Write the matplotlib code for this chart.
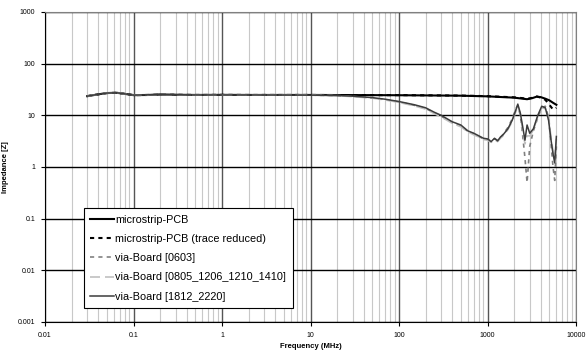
import matplotlib
matplotlib.use("Agg")
import matplotlib.pyplot as plt
from matplotlib.ticker import FixedLocator, FuncFormatter, LogLocator

plt.rcParams['font.family'] = ['Liberation Sans', 'DejaVu Sans']

# Data
freq_ms = [0.03, 0.04, 0.05, 0.065, 0.08, 0.1, 0.15, 0.2, 0.3, 0.5, 1, 2, 5, 10, 20, 50,
           100, 200, 500, 1000, 1500, 2000, 2500, 2800, 3200, 3600, 4000, 4500, 5000, 5500, 6000]
z_ms = [23.5, 25.5, 27, 27.3, 26, 24.6, 24.8, 25.3, 25, 24.8, 24.9, 24.8, 24.8, 24.8, 24.7, 24.6,
        24.5, 24.3, 24, 23.3, 22.5, 22, 21, 20.5, 21.5, 23, 22.5, 21, 19.5, 17.5, 16]
z_ms_reduced = [23.5, 25.5, 27, 27.3, 26, 24.6, 24.8, 25.3, 25, 24.8, 24.9, 24.8, 24.8, 24.8, 24.7, 24.6,
                24.6, 24.4, 24.1, 23.5, 22.8, 22.3, 21.5, 20.8, 21.8, 23.2, 22, 20, 16, 13, 14]

freq_via = [0.03, 0.04, 0.05, 0.065, 0.08, 0.1, 0.2, 0.5, 1, 2, 5, 10, 20, 30, 50, 70, 100,
            150, 200, 250, 300, 400, 500, 600, 700, 800, 900, 1000, 1100, 1200, 1300, 1400,
            1500, 1700, 1900, 2100, 2200, 2350, 2500, 2650, 2800, 3000, 3300, 3700, 4100,
            4500, 4900, 5200, 5500, 5750, 6000]
z_1812 = [23.5, 25.5, 27, 27.3, 26, 24.6, 25.3, 24.8, 24.8, 24.8, 24.7, 24.6, 24.2, 23.5, 22, 20.5, 18.5,
          16, 14, 11.5, 10, 7.5, 6.5, 5, 4.5, 4.0, 3.6, 3.5, 3.1, 3.6, 3.2, 3.8,
          4.2, 5.5, 8, 13, 16.5, 11, 6, 3.3, 6.5, 4.5, 5.5, 10, 15,
          14, 8, 3.5, 1.8, 1.2, 3.9]
z_0603 = [23.5, 25.5, 27, 27.3, 26, 24.6, 25.3, 24.8, 24.8, 24.8, 24.7, 24.6, 24.2, 23.3, 21.8, 20.2, 18.2,
          15.6, 13.6, 11.2, 9.6, 7.2, 6.2, 4.9, 4.4, 3.9, 3.5, 3.4, 3.2, 3.5, 3.3, 3.7,
          4.3, 5.8, 8.5, 13.5, 15.5, 10, 4, 1.5, 0.5, 2.5, 5, 9, 14,
          15, 9, 3, 1, 0.55, 2.5]
z_0805 = [23.5, 25.5, 27, 27.3, 26, 24.6, 25.3, 24.8, 24.8, 24.8, 24.7, 24.6, 24.0, 23.0, 21.5, 19.8, 17.8,
          15.2, 13.2, 10.8, 9.3, 7.0, 6.0, 4.8, 4.2, 3.8, 3.4, 3.3, 3.0, 3.4, 3.1, 3.6,
          4.0, 5.3, 7.5, 12, 15.5, 10.5, 5, 2.8, 4, 4, 5.2, 9.5, 14,
          13.5, 9, 4, 2, 1.4, 3.5]

fig = plt.figure(figsize=(5.86, 3.54), dpi=100)
ax = fig.add_axes([45 / 586, 1 - 322 / 354, 531 / 586, 310 / 354])

ax.plot(freq_ms, z_ms, color='black', lw=1.5, label='microstrip-PCB')
ax.plot(freq_ms, z_ms_reduced, color='black', lw=1.5, ls=(0, (2, 2)), label='microstrip-PCB (trace reduced)')
ax.plot(freq_via, z_0603, color='#808080', lw=1.2, ls=(0, (2.5, 2.5)), label='via-Board [0603]')
ax.plot(freq_via, z_0805, color='#c0c0c0', lw=1.2, ls=(0, (6, 3)), label='via-Board [0805_1206_1210_1410]')
ax.plot(freq_via, z_1812, color='#3c3c3c', lw=1.1, label='via-Board [1812_2220]')

ax.set_xscale('log')
ax.set_yscale('log')
ax.set_xlim(0.01, 10000)
ax.set_ylim(0.001, 1000)

fmt = FuncFormatter(lambda v, p: '%g' % v)
ax.xaxis.set_major_locator(FixedLocator([0.01, 0.1, 1, 10, 100, 1000, 10000]))
ax.yaxis.set_major_locator(FixedLocator([0.001, 0.01, 0.1, 1, 10, 100, 1000]))
ax.xaxis.set_major_formatter(fmt)
ax.yaxis.set_major_formatter(fmt)
ax.xaxis.set_minor_locator(LogLocator(base=10, subs=range(2, 10), numticks=20))
ax.yaxis.set_minor_locator(FixedLocator([]))

ax.grid(True, which='minor', axis='x', color='#c8c8c8', lw=0.8)
ax.grid(True, which='major', axis='x', color='#555555', lw=1.0)
ax.grid(True, which='major', axis='y', color='black', lw=1.0)
ax.set_axisbelow(True)

ax.tick_params(which='both', length=0, labelsize=5, pad=4)
ax.tick_params(axis='x', which='major', length=3, direction='out', color='black')
ax.tick_params(axis='y', which='major', length=3, direction='out', color='black')

for side in ['top', 'right']:
    ax.spines[side].set_color('#808080')
for side in ['left', 'bottom']:
    ax.spines[side].set_color('black')

ax.set_xlabel('Frequency (MHz)', fontsize=5.5, fontweight='bold', labelpad=3)
ax.set_ylabel('Impedance [Z]', fontsize=5.5, fontweight='bold', labelpad=6)

leg = ax.legend(loc='lower left', bbox_to_anchor=(0.073, 0.045),
                fontsize=7.8, frameon=True, fancybox=False, framealpha=1, edgecolor='black',
                handlelength=2.2, handletextpad=0.1, labelspacing=0.85, borderpad=0.6, borderaxespad=0)
leg.get_frame().set_linewidth(0.8)

fig.savefig('out.png', dpi=100)
